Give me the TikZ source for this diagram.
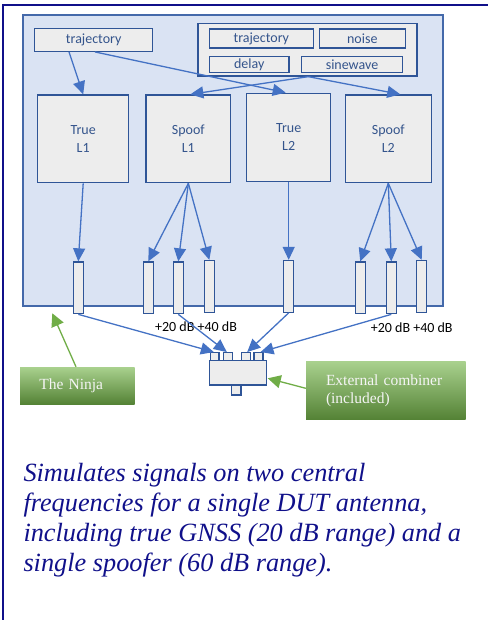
\documentclass[tikz,border=0pt]{standalone}
\usepackage{fontspec}
\setmainfont{Liberation Serif}
\newfontfamily\boxfont{Carlito}
\usetikzlibrary{arrows.meta,calc}

\definecolor{navy}{RGB}{16,16,138}
\definecolor{panelfill}{RGB}{218,227,243}
\definecolor{paneledge}{RGB}{68,105,170}
\definecolor{boxedge}{RGB}{47,85,151}
\definecolor{boxfill}{RGB}{237,237,237}
\definecolor{boxtext}{RGB}{52,84,140}
\definecolor{flow}{RGB}{68,114,196}
\definecolor{greentop}{RGB}{169,209,142}
\definecolor{greenbot}{RGB}{84,130,53}
\definecolor{greenline}{RGB}{112,173,71}

\tikzset{
  blk/.style={draw=boxedge, fill=boxfill, line width=1.3pt, inner sep=0pt,
    font=\boxfont\fontsize{14}{18}\selectfont, text=boxtext, align=center},
  bar/.style={blk, minimum width=10pt, minimum height=51.7pt},
  port/.style={blk, minimum height=8pt},
  flowarrow/.style={draw=flow, line width=1.3pt,
    -{Triangle[length=13pt,width=12pt]}},
  greenarrow/.style={draw=greenline, line width=1.3pt,
    -{Triangle[length=13pt,width=13pt]}},
  callout/.style={top color=greentop, bottom color=greenbot, inner ysep=0pt,
    inner xsep=0pt, align=left, text=white!96!black,
    font=\fontsize{15.5}{18.3}\selectfont},
  dblabel/.style={font=\boxfont\fontsize{14}{16}\selectfont, text=black, inner sep=0pt},
  caption/.style={anchor=base west, inner sep=0pt, text=navy,
    font=\itshape\fontsize{26.3}{30}\selectfont}
}

\begin{document}
\begin{tikzpicture}[x=1pt,y=-1pt]
\useasboundingbox (0,0) rectangle (487,620);

% frame lines along the top and left edges
\draw[navy, line width=2pt] (490,5) -- (3,5) -- (3,625);

% the simulator panel
\node[draw=paneledge, fill=panelfill, line width=1.5pt, inner sep=0pt,
  minimum width=420pt, minimum height=291pt] (panel) at (233,160.5) {};

% signal parameter boxes
\node[blk, minimum width=118pt, minimum height=22.6pt] (trajL) at (93.7,40) {trajectory};
\node[blk, minimum width=219pt, minimum height=52.3pt] (group) at (307.5,49.85) {};
\node[blk, minimum width=104pt, minimum height=19pt] (trajR) at (261.3,38.5) {trajectory};
\node[blk, minimum width=86pt, minimum height=19pt] (noise) at (362.3,38.5) {noise};
\node[blk, minimum width=79.7pt, minimum height=16pt] (delay) at (249.2,64.7) {delay};
\node[blk, minimum width=100.6pt, minimum height=16pt] (sine) at (352,64.7) {sinewave};

% signal generators
\node[blk, minimum width=91pt, minimum height=87.7pt] (TL1) at (83.2,138.85) {True\\L1};
\node[blk, minimum width=84.7pt, minimum height=87.7pt] (SL1) at (188.35,138.85) {Spoof\\L1};
\node[blk, minimum width=84pt, minimum height=88pt] (TL2) at (288.7,137.3) {True\\L2};
\node[blk, minimum width=86pt, minimum height=87.7pt] (SL2) at (388.3,138.85) {Spoof\\L2};

% output connectors
\node[bar] (b1) at (78.3,287.85) {};
\node[bar] (b2) at (148.3,287.85) {};
\node[bar] (b3) at (178.3,287.85) {};
\node[bar] (b4) at (209.3,286.35) {};
\node[bar] (b5) at (288.7,286.35) {};
\node[bar] (b6) at (360.2,287.85) {};
\node[bar] (b7) at (391.3,287.85) {};
\node[bar] (b8) at (421.7,286.35) {};

% attenuation labels
\node[dblabel] (db1) at (196,327) {+20 dB +40 dB};
\node[dblabel] (db2) at (411.7,328) {+20 dB +40 dB};

% external combiner
\node[blk, minimum width=57.4pt, minimum height=24.3pt] (comb) at (238,372.85) {};
\node[port, minimum width=8.3pt] (p1) at (214.85,356.7) {};
\node[port, minimum width=9pt] (p2) at (227.8,356.7) {};
\node[port, minimum width=9pt] (p3) at (246.2,356.7) {};
\node[port, minimum width=9pt] (p4) at (258.5,356.7) {};
\node[blk, minimum width=9.3pt, minimum height=10pt] (pout) at (236.35,390) {};

% parameter flow
\draw[flowarrow] ([xshift=-24.7pt]trajL.south) -- (TL1.north);
\draw[flowarrow] ([xshift=1.3pt]trajL.south) -- ([xshift=-3pt]TL2.north);
\draw[flowarrow] ([xshift=0.8pt]group.south) -- ([xshift=2pt]SL1.north);
\draw[flowarrow] ([xshift=0.8pt]group.south) -- ([xshift=12pt]SL2.north);

% generator outputs
\draw[flowarrow] (TL1.south) -- (b1.north);
\draw[flowarrow] (SL1.south) -- (b2.north);
\draw[flowarrow] (SL1.south) -- (b3.north);
\draw[flowarrow] (SL1.south) -- (b4.north);
\draw[flowarrow] (TL2.south) -- (b5.north);
\draw[flowarrow] (SL2.south) -- (b6.north);
\draw[flowarrow] (SL2.south) -- (b7.north);
\draw[flowarrow] (SL2.south) -- (b8.north);

% into the combiner
\draw[flowarrow] (b1.south) -- ([xshift=-1pt]p1.north);
\draw[flowarrow] (b3.south) -- ([xshift=-1pt]p2.north);
\draw[flowarrow] (b5.south) -- ([xshift=1pt]p3.north);
\draw[flowarrow] (b7.south) -- ([xshift=2pt]p4.north);

% callouts
\node[callout, minimum width=114.7pt, minimum height=37.3pt, text width=76.1pt,
  inner xsep=19.3pt] (ninja) at (77.35,385.65) {\raisebox{-2pt}{The Ninja}};
\node[callout, minimum width=159.7pt, minimum height=58.4pt, text width=119.7pt,
  inner xsep=20pt] (ext) at (385.85,390.5) {External combiner\\(included)};
\coordinate (ninjatip) at (52.3,313.3);
\coordinate (combtip) at (267.7,378.3);
\draw[greenarrow] ([xshift=-1.35pt]ninja.north) -- (ninjatip);
\draw[greenarrow] ([yshift=2.2pt]ext.west) -- (combtip);

% description
\node[caption] (l1) at (23.3,481.7) {Simulates signals on two central};
\node[caption] (l2) at (23.3,511.7) {frequencies for a single DUT antenna,};
\node[caption] (l3) at (23.3,541.7) {including true GNSS (20 dB range) and a};
\node[caption] (l4) at (23.3,571.7) {single spoofer (60 dB range).};
\end{tikzpicture}
\end{document}
